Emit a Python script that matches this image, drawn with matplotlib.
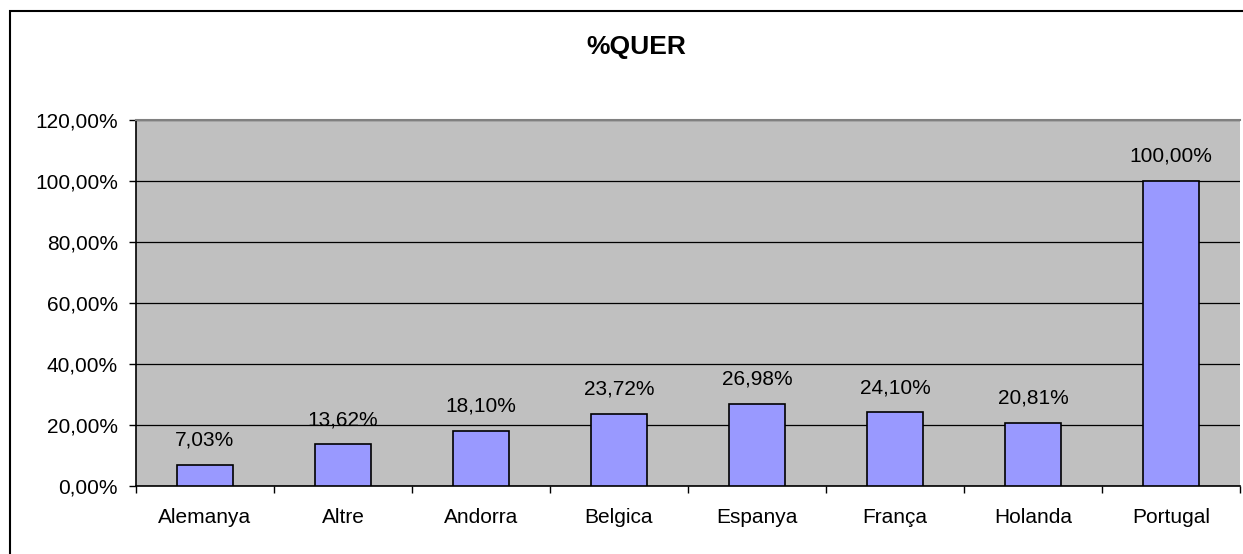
import matplotlib
matplotlib.use("Agg")
import matplotlib.pyplot as plt
from matplotlib.patches import Rectangle
from matplotlib.ticker import FixedLocator

categories = ["Alemanya", "Altre", "Andorra", "Belgica", "Espanya", "França", "Holanda", "Portugal"]
values = [7.03, 13.62, 18.10, 23.72, 26.98, 24.10, 20.81, 100.00]
yticks = [0, 20, 40, 60, 80, 100, 120]

plt.rcParams['font.family'] = ['Liberation Sans', 'DejaVu Sans']
FS = 15

W, H = 1243, 554
fig = plt.figure(figsize=(W/100, H/100), dpi=100)
fig.patches.append(Rectangle((10/W, -0.1), 1.2, (H-11)/H + 0.1, transform=fig.transFigure,
                             fill=False, edgecolor='black', linewidth=1.5))

ax = fig.add_axes([136/W, (H-486)/H, (1240-136)/W, (486-120)/H])
ax.set_facecolor('#C0C0C0')
x = list(range(len(categories)))
ax.bar(x, values, width=0.41, color='#9999FF', edgecolor='black', linewidth=1.2, zorder=3)
ax.set_xlim(-0.5, len(categories)-0.5)
ax.set_ylim(0, 120)
ax.set_yticks(yticks)
ax.set_yticklabels([f"{v:.2f}%".replace('.', ',') for v in yticks], fontsize=FS)
ax.yaxis.grid(True, color='black', linewidth=0.9, zorder=1)
ax.set_axisbelow(True)
ax.set_xticks(x)
ax.set_xticklabels(categories, fontsize=FS)
ax.tick_params(axis='x', length=0, pad=16)
ax.xaxis.set_minor_locator(FixedLocator([i - 0.5 for i in range(len(categories)+1)]))
ax.tick_params(axis='x', which='minor', length=5, width=1, direction='out')
ax.tick_params(axis='y', length=5, width=1, direction='out', pad=8)
for s in ['left', 'bottom']:
    ax.spines[s].set_color('black')
    ax.spines[s].set_linewidth(1.2)
ax.spines['top'].set_color('#808080')
ax.spines['top'].set_linewidth(1.5)
ax.spines['right'].set_visible(False)

for xi, v in zip(x, values):
    ax.annotate(f"{v:.2f}%".replace('.', ','), (xi, v), xytext=(0, 11), textcoords='offset points',
                ha='center', va='bottom', fontsize=FS, zorder=4)

fig.text(636/W, (H-47)/H, "%QUER", ha='center', va='center', fontsize=19, fontweight='bold')

fig.savefig("out.png", dpi=100)
